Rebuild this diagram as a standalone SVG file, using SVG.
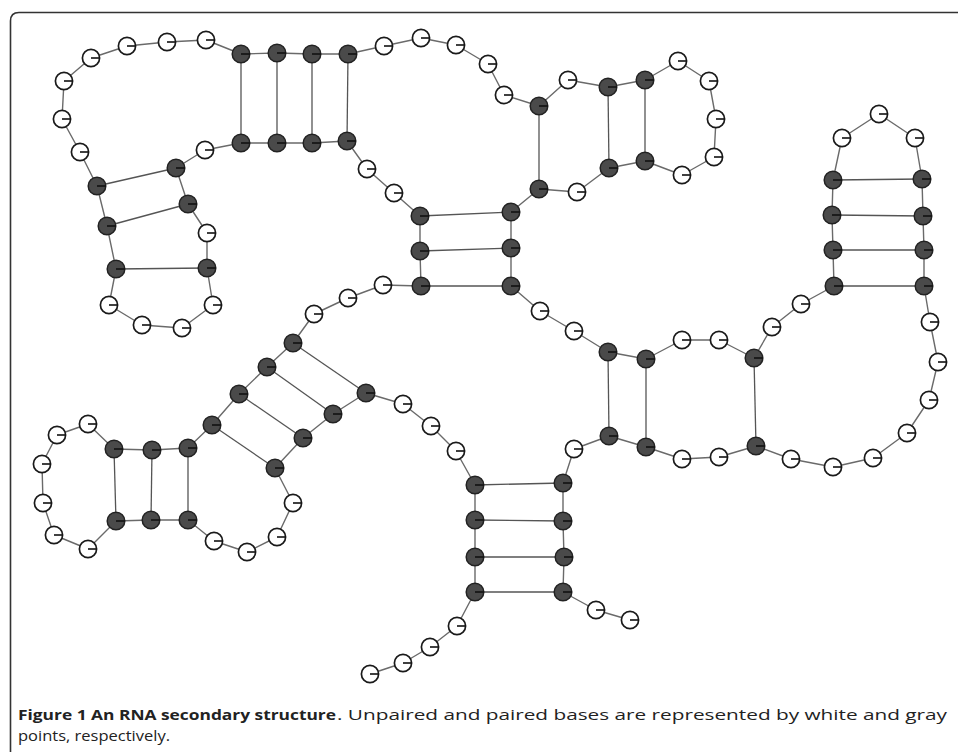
<svg xmlns="http://www.w3.org/2000/svg" xmlns:xlink="http://www.w3.org/1999/xlink" width="958" height="752" viewBox="0 0 958 752">
<style>
.frame{fill:none;stroke:#333;stroke-width:1.6}
.bb{fill:none;stroke:#6a6a6a;stroke-width:1.4;stroke-linejoin:round}
.bp{stroke:#555;stroke-width:1.3}
.u{fill:#fff;stroke:#1a1a1a;stroke-width:1.7}
.p{fill:#4a4a4a;stroke:#222;stroke-width:1.5}
.hand{stroke:#111;stroke-width:1.6}
.cap{font-family:"Open Sans","Liberation Sans",sans-serif;font-size:15px;fill:#222}
.capb{font-weight:bold}
</style>
<defs>
<g id="U"><circle class="u" r="8.6"/><line class="hand" x1="0" y1="0" x2="8.6" y2="0"/></g>
<g id="P"><circle class="p" r="8.8"/><line class="hand" x1="0" y1="0" x2="8.8" y2="0"/></g>
</defs>
<path class="frame" d="M10.5,752 V21 Q10.5,12.5 19,12.5 H958"/>
<g id="connectors">
<polyline class="bb" points="370,674 403,663 430,647 457,626 475,592 475,557 475,520 475,485 456,451 431,426 403,404 366,393 333,414 303,438 275,468 293,503 277,537 247,552 214,541 188,520 151,520 116,521 88,549 54,535 43,503 42,464 57,435 88,424 114,449 152,450 188,448 212,425 239,394 267,367 293,343 314,314 348,298 383,285 421,286 420,251 420,216 394,193 367,169 347,141 312,143 277,143 241,143 205,150 176,168 188,204 207,233 207,268 213,305 182,328 142,325 109,305 116,269 107,226 97,186 80,152 62,119 64,81 91,58 127,46 167,42 206,40 241,54 277,53 312,54 348,54 384,46 421,38 456,45 488,64 504,95 539,106 568,80 608,87 645,80 678,61 709,81 716,119 714,157 682,175 645,161 609,168 577,192 539,189 511,212 511,248 511,286 540,311 574,331 608,352 646,359 682,340 719,340 754,358 772,327 801,304 834,286 833,250 832,215 833,180 842,138 879,114 915,138 922,179 923,216 924,250 924,286 930,322 938,362 929,400 907,433 873,458 833,467 791,459 756,446 719,457 682,459 646,447 609,436 574,449 563,483 563,521 564,557 563,592 596,610 630,620"/>
<line class="bp" x1="241" y1="54" x2="241" y2="143"/>
<line class="bp" x1="277" y1="53" x2="277" y2="143"/>
<line class="bp" x1="312" y1="54" x2="312" y2="143"/>
<line class="bp" x1="348" y1="54" x2="347" y2="141"/>
<line class="bp" x1="97" y1="186" x2="176" y2="168"/>
<line class="bp" x1="107" y1="226" x2="188" y2="204"/>
<line class="bp" x1="116" y1="269" x2="207" y2="268"/>
<line class="bp" x1="539" y1="106" x2="539" y2="189"/>
<line class="bp" x1="608" y1="87" x2="609" y2="168"/>
<line class="bp" x1="645" y1="80" x2="645" y2="161"/>
<line class="bp" x1="420" y1="216" x2="511" y2="212"/>
<line class="bp" x1="420" y1="251" x2="511" y2="248"/>
<line class="bp" x1="421" y1="286" x2="511" y2="286"/>
<line class="bp" x1="833" y1="180" x2="922" y2="179"/>
<line class="bp" x1="832" y1="215" x2="923" y2="216"/>
<line class="bp" x1="833" y1="250" x2="924" y2="250"/>
<line class="bp" x1="834" y1="286" x2="924" y2="286"/>
<line class="bp" x1="608" y1="352" x2="609" y2="436"/>
<line class="bp" x1="646" y1="359" x2="646" y2="447"/>
<line class="bp" x1="754" y1="358" x2="756" y2="446"/>
<line class="bp" x1="475" y1="485" x2="563" y2="483"/>
<line class="bp" x1="475" y1="520" x2="563" y2="521"/>
<line class="bp" x1="475" y1="557" x2="564" y2="557"/>
<line class="bp" x1="475" y1="592" x2="563" y2="592"/>
<line class="bp" x1="293" y1="343" x2="366" y2="393"/>
<line class="bp" x1="267" y1="367" x2="333" y2="414"/>
<line class="bp" x1="239" y1="394" x2="303" y2="438"/>
<line class="bp" x1="212" y1="425" x2="275" y2="468"/>
<line class="bp" x1="114" y1="449" x2="116" y2="521"/>
<line class="bp" x1="152" y1="450" x2="151" y2="520"/>
<line class="bp" x1="188" y1="448" x2="188" y2="520"/>
</g>
<g id="nodes">
<g id="n1"><use xlink:href="#U" x="370" y="674"/></g>
<g id="n2"><use xlink:href="#U" x="403" y="663"/></g>
<g id="n3"><use xlink:href="#U" x="430" y="647"/></g>
<g id="n4"><use xlink:href="#U" x="457" y="626"/></g>
<g id="n5"><use xlink:href="#P" x="475" y="592"/></g>
<g id="n6"><use xlink:href="#P" x="475" y="557"/></g>
<g id="n7"><use xlink:href="#P" x="475" y="520"/></g>
<g id="n8"><use xlink:href="#P" x="475" y="485"/></g>
<g id="n9"><use xlink:href="#U" x="456" y="451"/></g>
<g id="n10"><use xlink:href="#U" x="431" y="426"/></g>
<g id="n11"><use xlink:href="#U" x="403" y="404"/></g>
<g id="n12"><use xlink:href="#P" x="366" y="393"/></g>
<g id="n13"><use xlink:href="#P" x="333" y="414"/></g>
<g id="n14"><use xlink:href="#P" x="303" y="438"/></g>
<g id="n15"><use xlink:href="#P" x="275" y="468"/></g>
<g id="n16"><use xlink:href="#U" x="293" y="503"/></g>
<g id="n17"><use xlink:href="#U" x="277" y="537"/></g>
<g id="n18"><use xlink:href="#U" x="247" y="552"/></g>
<g id="n19"><use xlink:href="#U" x="214" y="541"/></g>
<g id="n20"><use xlink:href="#P" x="188" y="520"/></g>
<g id="n21"><use xlink:href="#P" x="151" y="520"/></g>
<g id="n22"><use xlink:href="#P" x="116" y="521"/></g>
<g id="n23"><use xlink:href="#U" x="88" y="549"/></g>
<g id="n24"><use xlink:href="#U" x="54" y="535"/></g>
<g id="n25"><use xlink:href="#U" x="43" y="503"/></g>
<g id="n26"><use xlink:href="#U" x="42" y="464"/></g>
<g id="n27"><use xlink:href="#U" x="57" y="435"/></g>
<g id="n28"><use xlink:href="#U" x="88" y="424"/></g>
<g id="n29"><use xlink:href="#P" x="114" y="449"/></g>
<g id="n30"><use xlink:href="#P" x="152" y="450"/></g>
<g id="n31"><use xlink:href="#P" x="188" y="448"/></g>
<g id="n32"><use xlink:href="#P" x="212" y="425"/></g>
<g id="n33"><use xlink:href="#P" x="239" y="394"/></g>
<g id="n34"><use xlink:href="#P" x="267" y="367"/></g>
<g id="n35"><use xlink:href="#P" x="293" y="343"/></g>
<g id="n36"><use xlink:href="#U" x="314" y="314"/></g>
<g id="n37"><use xlink:href="#U" x="348" y="298"/></g>
<g id="n38"><use xlink:href="#U" x="383" y="285"/></g>
<g id="n39"><use xlink:href="#P" x="421" y="286"/></g>
<g id="n40"><use xlink:href="#P" x="420" y="251"/></g>
<g id="n41"><use xlink:href="#P" x="420" y="216"/></g>
<g id="n42"><use xlink:href="#U" x="394" y="193"/></g>
<g id="n43"><use xlink:href="#U" x="367" y="169"/></g>
<g id="n44"><use xlink:href="#P" x="347" y="141"/></g>
<g id="n45"><use xlink:href="#P" x="312" y="143"/></g>
<g id="n46"><use xlink:href="#P" x="277" y="143"/></g>
<g id="n47"><use xlink:href="#P" x="241" y="143"/></g>
<g id="n48"><use xlink:href="#U" x="205" y="150"/></g>
<g id="n49"><use xlink:href="#P" x="176" y="168"/></g>
<g id="n50"><use xlink:href="#P" x="188" y="204"/></g>
<g id="n51"><use xlink:href="#U" x="207" y="233"/></g>
<g id="n52"><use xlink:href="#P" x="207" y="268"/></g>
<g id="n53"><use xlink:href="#U" x="213" y="305"/></g>
<g id="n54"><use xlink:href="#U" x="182" y="328"/></g>
<g id="n55"><use xlink:href="#U" x="142" y="325"/></g>
<g id="n56"><use xlink:href="#U" x="109" y="305"/></g>
<g id="n57"><use xlink:href="#P" x="116" y="269"/></g>
<g id="n58"><use xlink:href="#P" x="107" y="226"/></g>
<g id="n59"><use xlink:href="#P" x="97" y="186"/></g>
<g id="n60"><use xlink:href="#U" x="80" y="152"/></g>
<g id="n61"><use xlink:href="#U" x="62" y="119"/></g>
<g id="n62"><use xlink:href="#U" x="64" y="81"/></g>
<g id="n63"><use xlink:href="#U" x="91" y="58"/></g>
<g id="n64"><use xlink:href="#U" x="127" y="46"/></g>
<g id="n65"><use xlink:href="#U" x="167" y="42"/></g>
<g id="n66"><use xlink:href="#U" x="206" y="40"/></g>
<g id="n67"><use xlink:href="#P" x="241" y="54"/></g>
<g id="n68"><use xlink:href="#P" x="277" y="53"/></g>
<g id="n69"><use xlink:href="#P" x="312" y="54"/></g>
<g id="n70"><use xlink:href="#P" x="348" y="54"/></g>
<g id="n71"><use xlink:href="#U" x="384" y="46"/></g>
<g id="n72"><use xlink:href="#U" x="421" y="38"/></g>
<g id="n73"><use xlink:href="#U" x="456" y="45"/></g>
<g id="n74"><use xlink:href="#U" x="488" y="64"/></g>
<g id="n75"><use xlink:href="#U" x="504" y="95"/></g>
<g id="n76"><use xlink:href="#P" x="539" y="106"/></g>
<g id="n77"><use xlink:href="#U" x="568" y="80"/></g>
<g id="n78"><use xlink:href="#P" x="608" y="87"/></g>
<g id="n79"><use xlink:href="#P" x="645" y="80"/></g>
<g id="n80"><use xlink:href="#U" x="678" y="61"/></g>
<g id="n81"><use xlink:href="#U" x="709" y="81"/></g>
<g id="n82"><use xlink:href="#U" x="716" y="119"/></g>
<g id="n83"><use xlink:href="#U" x="714" y="157"/></g>
<g id="n84"><use xlink:href="#U" x="682" y="175"/></g>
<g id="n85"><use xlink:href="#P" x="645" y="161"/></g>
<g id="n86"><use xlink:href="#P" x="609" y="168"/></g>
<g id="n87"><use xlink:href="#U" x="577" y="192"/></g>
<g id="n88"><use xlink:href="#P" x="539" y="189"/></g>
<g id="n89"><use xlink:href="#P" x="511" y="212"/></g>
<g id="n90"><use xlink:href="#P" x="511" y="248"/></g>
<g id="n91"><use xlink:href="#P" x="511" y="286"/></g>
<g id="n92"><use xlink:href="#U" x="540" y="311"/></g>
<g id="n93"><use xlink:href="#U" x="574" y="331"/></g>
<g id="n94"><use xlink:href="#P" x="608" y="352"/></g>
<g id="n95"><use xlink:href="#P" x="646" y="359"/></g>
<g id="n96"><use xlink:href="#U" x="682" y="340"/></g>
<g id="n97"><use xlink:href="#U" x="719" y="340"/></g>
<g id="n98"><use xlink:href="#P" x="754" y="358"/></g>
<g id="n99"><use xlink:href="#U" x="772" y="327"/></g>
<g id="n100"><use xlink:href="#U" x="801" y="304"/></g>
<g id="n101"><use xlink:href="#P" x="834" y="286"/></g>
<g id="n102"><use xlink:href="#P" x="833" y="250"/></g>
<g id="n103"><use xlink:href="#P" x="832" y="215"/></g>
<g id="n104"><use xlink:href="#P" x="833" y="180"/></g>
<g id="n105"><use xlink:href="#U" x="842" y="138"/></g>
<g id="n106"><use xlink:href="#U" x="879" y="114"/></g>
<g id="n107"><use xlink:href="#U" x="915" y="138"/></g>
<g id="n108"><use xlink:href="#P" x="922" y="179"/></g>
<g id="n109"><use xlink:href="#P" x="923" y="216"/></g>
<g id="n110"><use xlink:href="#P" x="924" y="250"/></g>
<g id="n111"><use xlink:href="#P" x="924" y="286"/></g>
<g id="n112"><use xlink:href="#U" x="930" y="322"/></g>
<g id="n113"><use xlink:href="#U" x="938" y="362"/></g>
<g id="n114"><use xlink:href="#U" x="929" y="400"/></g>
<g id="n115"><use xlink:href="#U" x="907" y="433"/></g>
<g id="n116"><use xlink:href="#U" x="873" y="458"/></g>
<g id="n117"><use xlink:href="#U" x="833" y="467"/></g>
<g id="n118"><use xlink:href="#U" x="791" y="459"/></g>
<g id="n119"><use xlink:href="#P" x="756" y="446"/></g>
<g id="n120"><use xlink:href="#U" x="719" y="457"/></g>
<g id="n121"><use xlink:href="#U" x="682" y="459"/></g>
<g id="n122"><use xlink:href="#P" x="646" y="447"/></g>
<g id="n123"><use xlink:href="#P" x="609" y="436"/></g>
<g id="n124"><use xlink:href="#U" x="574" y="449"/></g>
<g id="n125"><use xlink:href="#P" x="563" y="483"/></g>
<g id="n126"><use xlink:href="#P" x="563" y="521"/></g>
<g id="n127"><use xlink:href="#P" x="564" y="557"/></g>
<g id="n128"><use xlink:href="#P" x="563" y="592"/></g>
<g id="n129"><use xlink:href="#U" x="596" y="610"/></g>
<g id="n130"><use xlink:href="#U" x="630" y="620"/></g>
</g>
<g id="caption">
<text class="cap capb" x="18" y="720" textLength="318" lengthAdjust="spacingAndGlyphs">Figure 1 An RNA secondary structure</text>
<text class="cap" x="337" y="720" textLength="610" lengthAdjust="spacingAndGlyphs">. Unpaired and paired bases are represented by white and gray</text>
<text class="cap" x="18" y="741" textLength="152" lengthAdjust="spacingAndGlyphs">points, respectively.</text>
</g>
</svg>
